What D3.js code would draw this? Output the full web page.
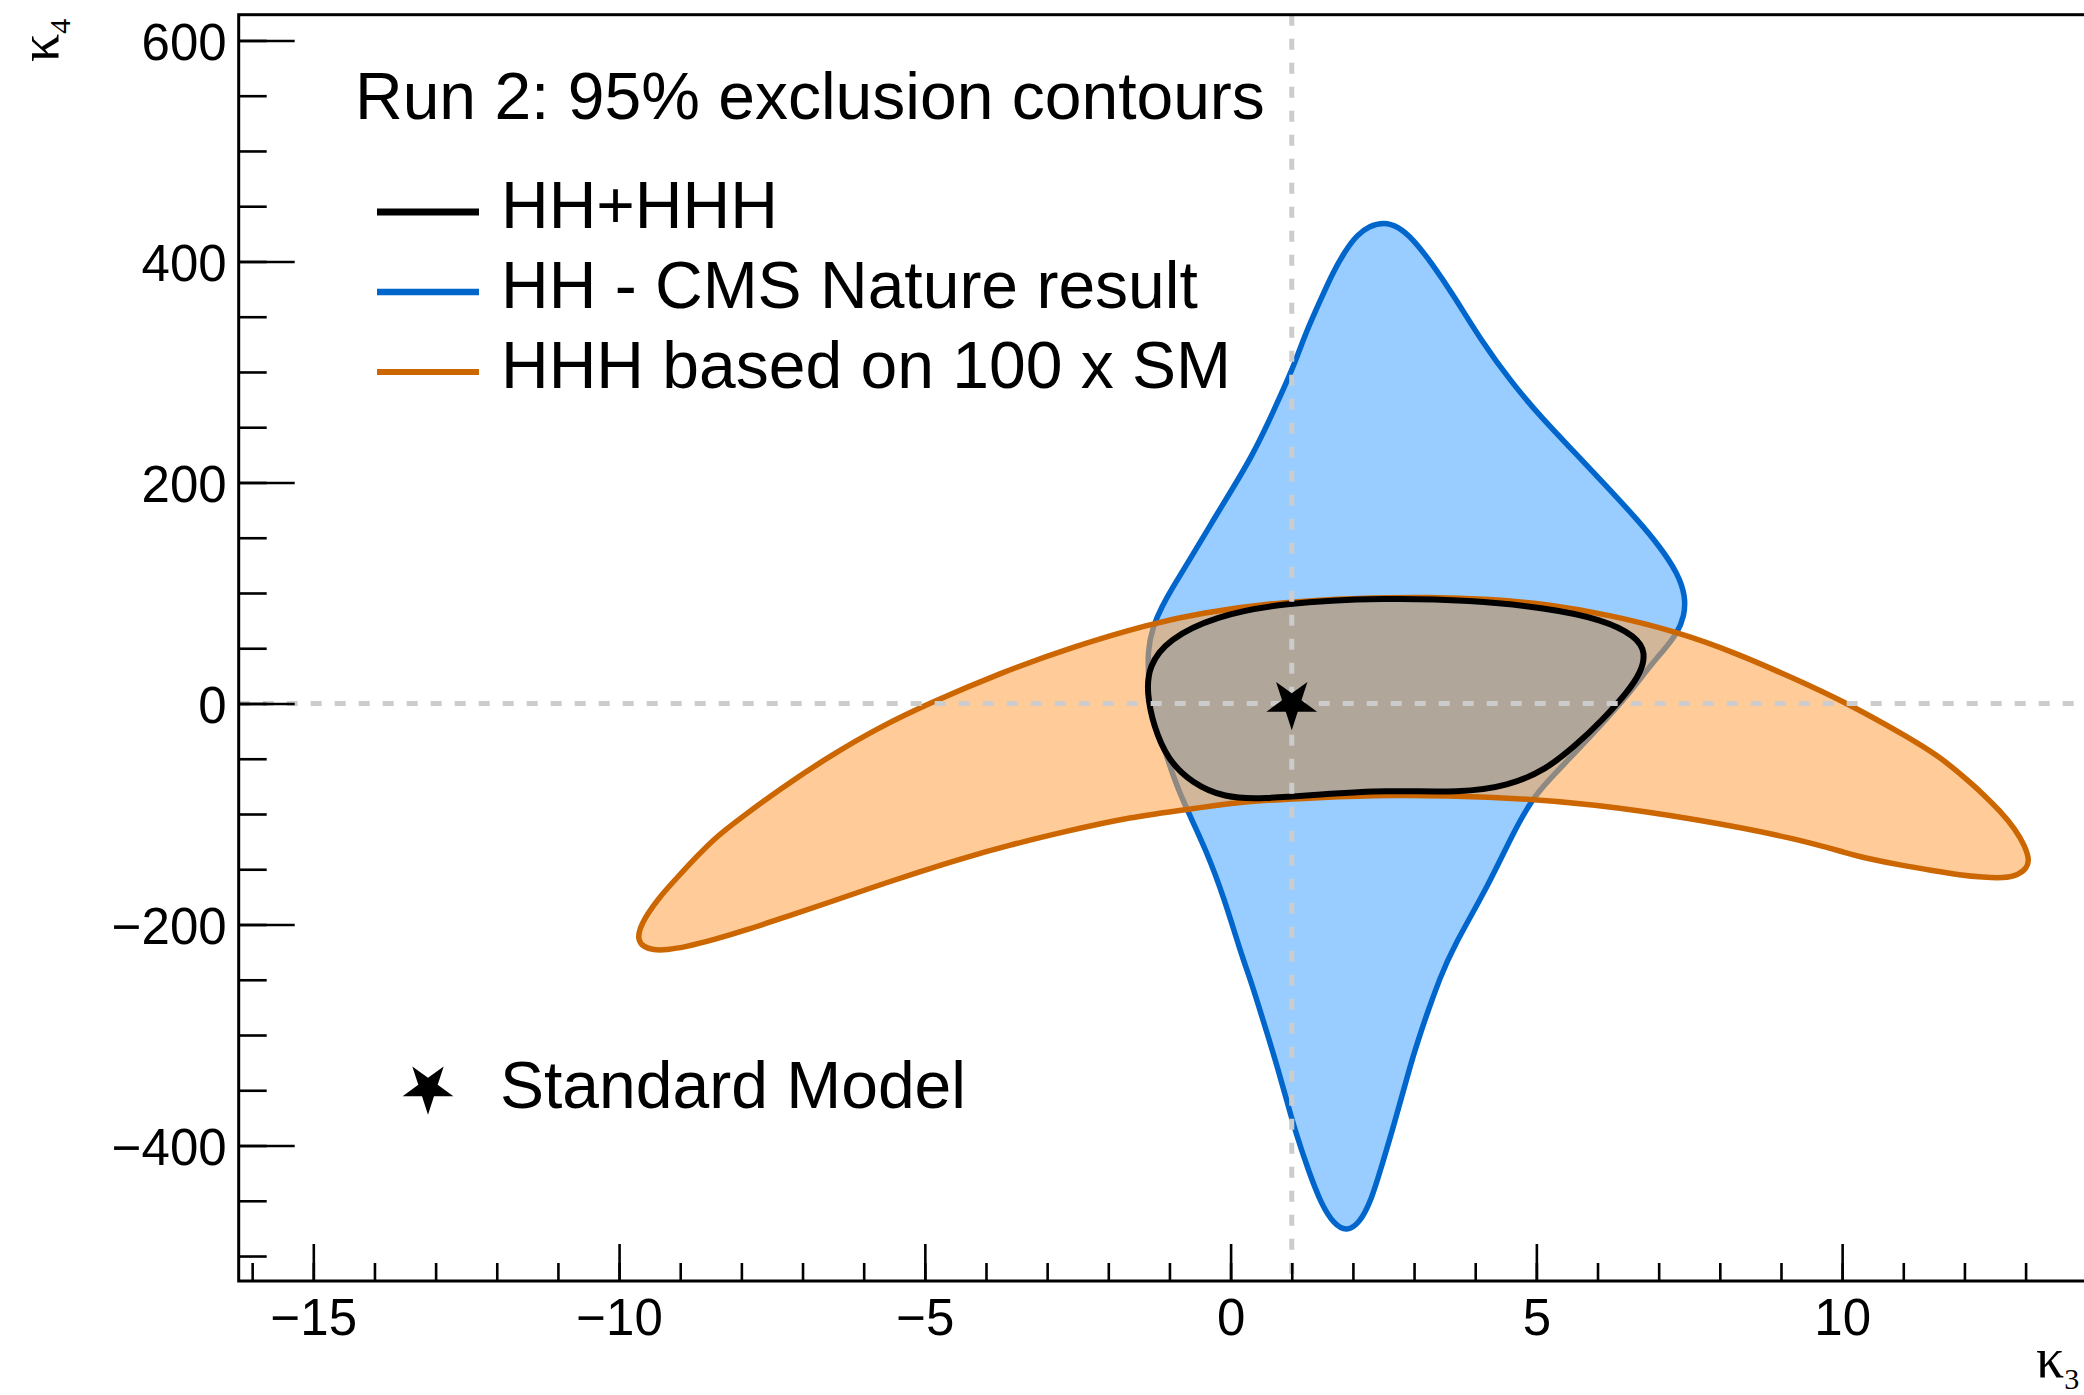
<!DOCTYPE html>
<html>
<head>
<meta charset="utf-8">
<script src="https://cdn.jsdelivr.net/npm/d3@7"></script>
<style>
  html, body { margin: 0; padding: 0; background: #fff; }
  svg { display: block; }
</style>
</head>
<body>
<svg id="chart" width="2084" height="1395"></svg>
<script>
// ---------------- data ----------------
const xMajorTicks = [-15, -10, -5, 0, 5, 10];
const xMinorTicks = d3.range(-16, 15, 1);
const yMajorTicks = [-400, -200, 0, 200, 400, 600];
const yMinorTicks = d3.range(-500, 601, 50);

// HH - CMS Nature result (kappa3, kappa4)
const hhContour = [
  [2.51, 435.6], [2.73, 432], [2.99, 420], [3.28, 399], [3.65, 369], [4.09, 329],
  [4.60, 290], [5.11, 257], [5.63, 227], [6.14, 197], [6.65, 166.5], [7.02, 142],
  [7.31, 118], [7.44, 97], [7.42, 79], [7.30, 63], [7.08, 48], [6.86, 34],
  [6.48, 6.6], [6.09, -17.5], [5.63, -44.6], [5.16, -71.8], [4.93, -86.9],
  [4.62, -117], [4.24, -162], [3.615, -223], [3.423, -248.7], [3.232, -277.4],
  [3.068, -304.5], [2.933, -328.7], [2.769, -361.8], [2.633, -388.4], [2.47, -418.6],
  [2.306, -448.7], [2.115, -469.9], [1.897, -478], [1.69, -471], [1.488, -453.8],
  [1.269, -422.2], [1.052, -386], [0.916, -358.8], [0.779, -331.7], [0.615, -301.5],
  [0.479, -277.4], [0.343, -253.2], [0.152, -223.1], [-0.10, -177], [-0.40, -132.6],
  [-0.71, -96.4], [-0.90, -72], [-1.08, -42], [-1.25, -12], [-1.34, 18], [-1.36, 48],
  [-1.27, 70], [-1.12, 88], [-0.97, 103], [-0.67, 130], [-0.31, 163.5], [0.06, 197],
  [0.35, 224], [0.64, 257], [0.86, 284], [1.05, 308], [1.23, 335.5], [1.45, 362.6],
  [1.67, 390], [1.89, 411], [2.07, 424], [2.26, 432]
];

// HHH based on 100 x SM
const hhhContour = [
  [-9.673, -205.0], [-9.552, -191.4], [-9.334, -174.8], [-9.061, -158.2], [-8.734, -138.6],
  [-8.407, -120.5], [-8.054, -105.4], [-7.372, -77.4], [-6.554, -47.5], [-5.736, -21.3],
  [-4.935, 0], [-3.773, 27.6], [-2.547, 52.0], [-1.320, 71.9], [-0.502, 81.9],
  [0.806, 91.9], [2.114, 95.5], [3.259, 96.4], [4.241, 94.6], [5.173, 90.0],
  [6.204, 80.1], [7.295, 65.0], [8.265, 45.7], [9.197, 23.1], [10.097, 0],
  [11.062, -29.9], [11.602, -48.4], [12.011, -67.4], [12.305, -81.9], [12.583, -97.3],
  [12.829, -113.6], [12.991, -129.0], [13.062, -141.6], [13.019, -149.1], [12.882, -155.2],
  [12.637, -158.2], [12.309, -157.3], [11.928, -155.2], [11.492, -151.3], [10.947, -146.2],
  [10.402, -140.1], [10.129, -136.2], [9.213, -121.7], [7.692, -105.4], [5.959, -90.9],
  [4.208, -83.7], [2.475, -82.8], [1.461, -85.1], [0.262, -88.2], [-0.556, -94.8],
  [-1.647, -102.7], [-2.743, -116.3], [-3.610, -128.1], [-4.427, -140.7], [-5.082, -152.2],
  [-5.900, -167.2], [-6.608, -180.8], [-7.262, -192.9], [-7.916, -205.0], [-8.463, -214.0],
  [-8.898, -220.1], [-9.225, -223.1], [-9.444, -223.1], [-9.608, -220.1], [-9.689, -214.0]
];

// HH+HHH combined
const combinedContour = [
  [2.53, 95.6], [3.92, 93.5], [5.16, 86.6], [6.09, 76], [6.63, 61], [6.79, 46],
  [6.71, 28], [6.48, 9.7], [6.09, -14.5], [5.63, -38.6], [5.16, -59.7], [4.54, -74.8],
  [3.77, -80.8], [2.53, -78.4], [1.45, -82.4], [0.52, -86.3], [-0.10, -85.4],
  [-0.64, -71.8], [-1.03, -50.7], [-1.26, -20.5], [-1.37, 9.7], [-1.34, 33.8],
  [-1.03, 57.9], [-0.25, 79], [0.83, 91]
];

const smPoint = [1, 0];
const titleText = "Run 2: 95% exclusion contours";
const legendLabels = ["HH+HHH", "HH - CMS Nature result", "HHH based on 100 x SM"];
const smLabel = "Standard Model";

// ---------------- drawing ----------------
const svg = d3.select("#chart");
const frame = { left: 238.7, top: 14.7, right: 2105.7, bottom: 1281 };

const x = d3.scaleLinear().domain([-16.22, 14.31]).range([frame.left, frame.right]);
const y = d3.scaleLinear().domain([-522.6, 623.3]).range([frame.bottom, frame.top]);

const sansFont = "'Liberation Sans', Arial, Helvetica, sans-serif";
const serifFont = "'Liberation Serif', 'Times New Roman', serif";

const line = d3.line().x(d => x(d[0])).y(d => y(d[1])).curve(d3.curveBasisClosed);

// HH (blue)
svg.append("path").datum(hhContour)
  .attr("d", line)
  .attr("fill", "#99ccff")
  .attr("stroke", "#0066cc")
  .attr("stroke-width", 5.5)
  .attr("stroke-linejoin", "round");

// HHH (orange, translucent fill over blue)
svg.append("path").datum(hhhContour)
  .attr("d", line)
  .attr("fill", "rgba(255,164,73,0.56)")
  .attr("stroke", "none");
svg.append("path").datum(hhhContour)
  .attr("d", line)
  .attr("fill", "none")
  .attr("stroke", "#cc6600")
  .attr("stroke-width", 5.5)
  .attr("stroke-linejoin", "round");

// HH+HHH (black)
svg.append("path").datum(combinedContour)
  .attr("d", line)
  .attr("fill", "#b0a69a")
  .attr("stroke", "#000")
  .attr("stroke-width", 6)
  .attr("stroke-linejoin", "round");

// dashed reference lines
svg.append("line")
  .attr("x1", x(smPoint[0])).attr("x2", x(smPoint[0]))
  .attr("y1", frame.top).attr("y2", frame.bottom)
  .attr("stroke", "#cccccc").attr("stroke-width", 5)
  .attr("stroke-dasharray", "11,13");
svg.append("line")
  .attr("x1", frame.left).attr("x2", frame.right)
  .attr("y1", y(smPoint[1])).attr("y2", y(smPoint[1]))
  .attr("stroke", "#cccccc").attr("stroke-width", 5)
  .attr("stroke-dasharray", "11,13");

// SM star
const star = d3.symbol().type(d3.symbolStar).size(800);
svg.append("path")
  .attr("d", star())
  .attr("transform", `translate(${x(smPoint[0])},${y(smPoint[1])}) rotate(180)`)
  .attr("fill", "#000");

// axes
function styleAxis(g) {
  g.select(".domain").remove();
  g.selectAll(".tick line").attr("stroke", "#000").attr("stroke-width", 2.6);
  g.selectAll(".tick text").attr("font-family", sansFont).attr("font-size", 51).attr("fill", "#000");
}
const fmt = d3.format("d");

svg.append("g").attr("transform", `translate(0,${frame.bottom})`)
  .call(d3.axisBottom(x).tickValues(xMinorTicks).tickSizeInner(-18).tickSizeOuter(0).tickFormat(""))
  .call(styleAxis);
svg.append("g").attr("transform", `translate(0,${frame.bottom})`)
  .call(d3.axisBottom(x).tickValues(xMajorTicks).tickSizeInner(-37).tickSizeOuter(0).tickPadding(18).tickFormat(fmt))
  .call(styleAxis);

svg.append("g").attr("transform", `translate(${frame.left},0)`)
  .call(d3.axisLeft(y).tickValues(yMinorTicks).tickSizeInner(-28).tickSizeOuter(0).tickFormat(""))
  .call(styleAxis);
svg.append("g").attr("transform", `translate(${frame.left},0)`)
  .call(d3.axisLeft(y).tickValues(yMajorTicks).tickSizeInner(-56).tickSizeOuter(0).tickPadding(12).tickFormat(fmt))
  .call(styleAxis)
  .call(g => g.selectAll(".tick text").attr("dy", "0.37em"));

// frame
svg.append("rect")
  .attr("x", frame.left).attr("y", frame.top)
  .attr("width", frame.right - frame.left).attr("height", frame.bottom - frame.top)
  .attr("fill", "none").attr("stroke", "#000").attr("stroke-width", 3);

// axis titles
const yt = svg.append("text")
  .attr("transform", "translate(58,62) rotate(-90)")
  .attr("font-family", serifFont).attr("font-size", 56).attr("fill", "#000");
yt.append("tspan").text("\u03ba");
yt.append("tspan").attr("font-size", 30).attr("dy", 12).text("4");

const xt = svg.append("text")
  .attr("x", 2036).attr("y", 1377)
  .attr("font-family", serifFont).attr("font-size", 56).attr("fill", "#000");
xt.append("tspan").text("\u03ba");
xt.append("tspan").attr("font-size", 30).attr("dy", 12).text("3");

// legend
svg.append("text")
  .attr("x", 355).attr("y", 119)
  .attr("font-family", sansFont).attr("font-size", 66).attr("fill", "#000")
  .text(titleText);

const legendColors = ["#000000", "#0066cc", "#cc6600"];
const legendWidths = [7, 6.5, 6];
const legendBaselines = [228, 308, 388];
legendLabels.forEach((lab, i) => {
  svg.append("line")
    .attr("x1", 377).attr("x2", 479)
    .attr("y1", legendBaselines[i] - 16).attr("y2", legendBaselines[i] - 16)
    .attr("stroke", legendColors[i]).attr("stroke-width", legendWidths[i]);
  svg.append("text")
    .attr("x", 501).attr("y", legendBaselines[i])
    .attr("font-family", sansFont).attr("font-size", 66).attr("fill", "#000")
    .text(lab);
});

svg.append("path")
  .attr("d", star())
  .attr("transform", "translate(428,1088) rotate(180)")
  .attr("fill", "#000");
svg.append("text")
  .attr("x", 500).attr("y", 1108)
  .attr("font-family", sansFont).attr("font-size", 66).attr("fill", "#000")
  .text(smLabel);
</script>
</body>
</html>
